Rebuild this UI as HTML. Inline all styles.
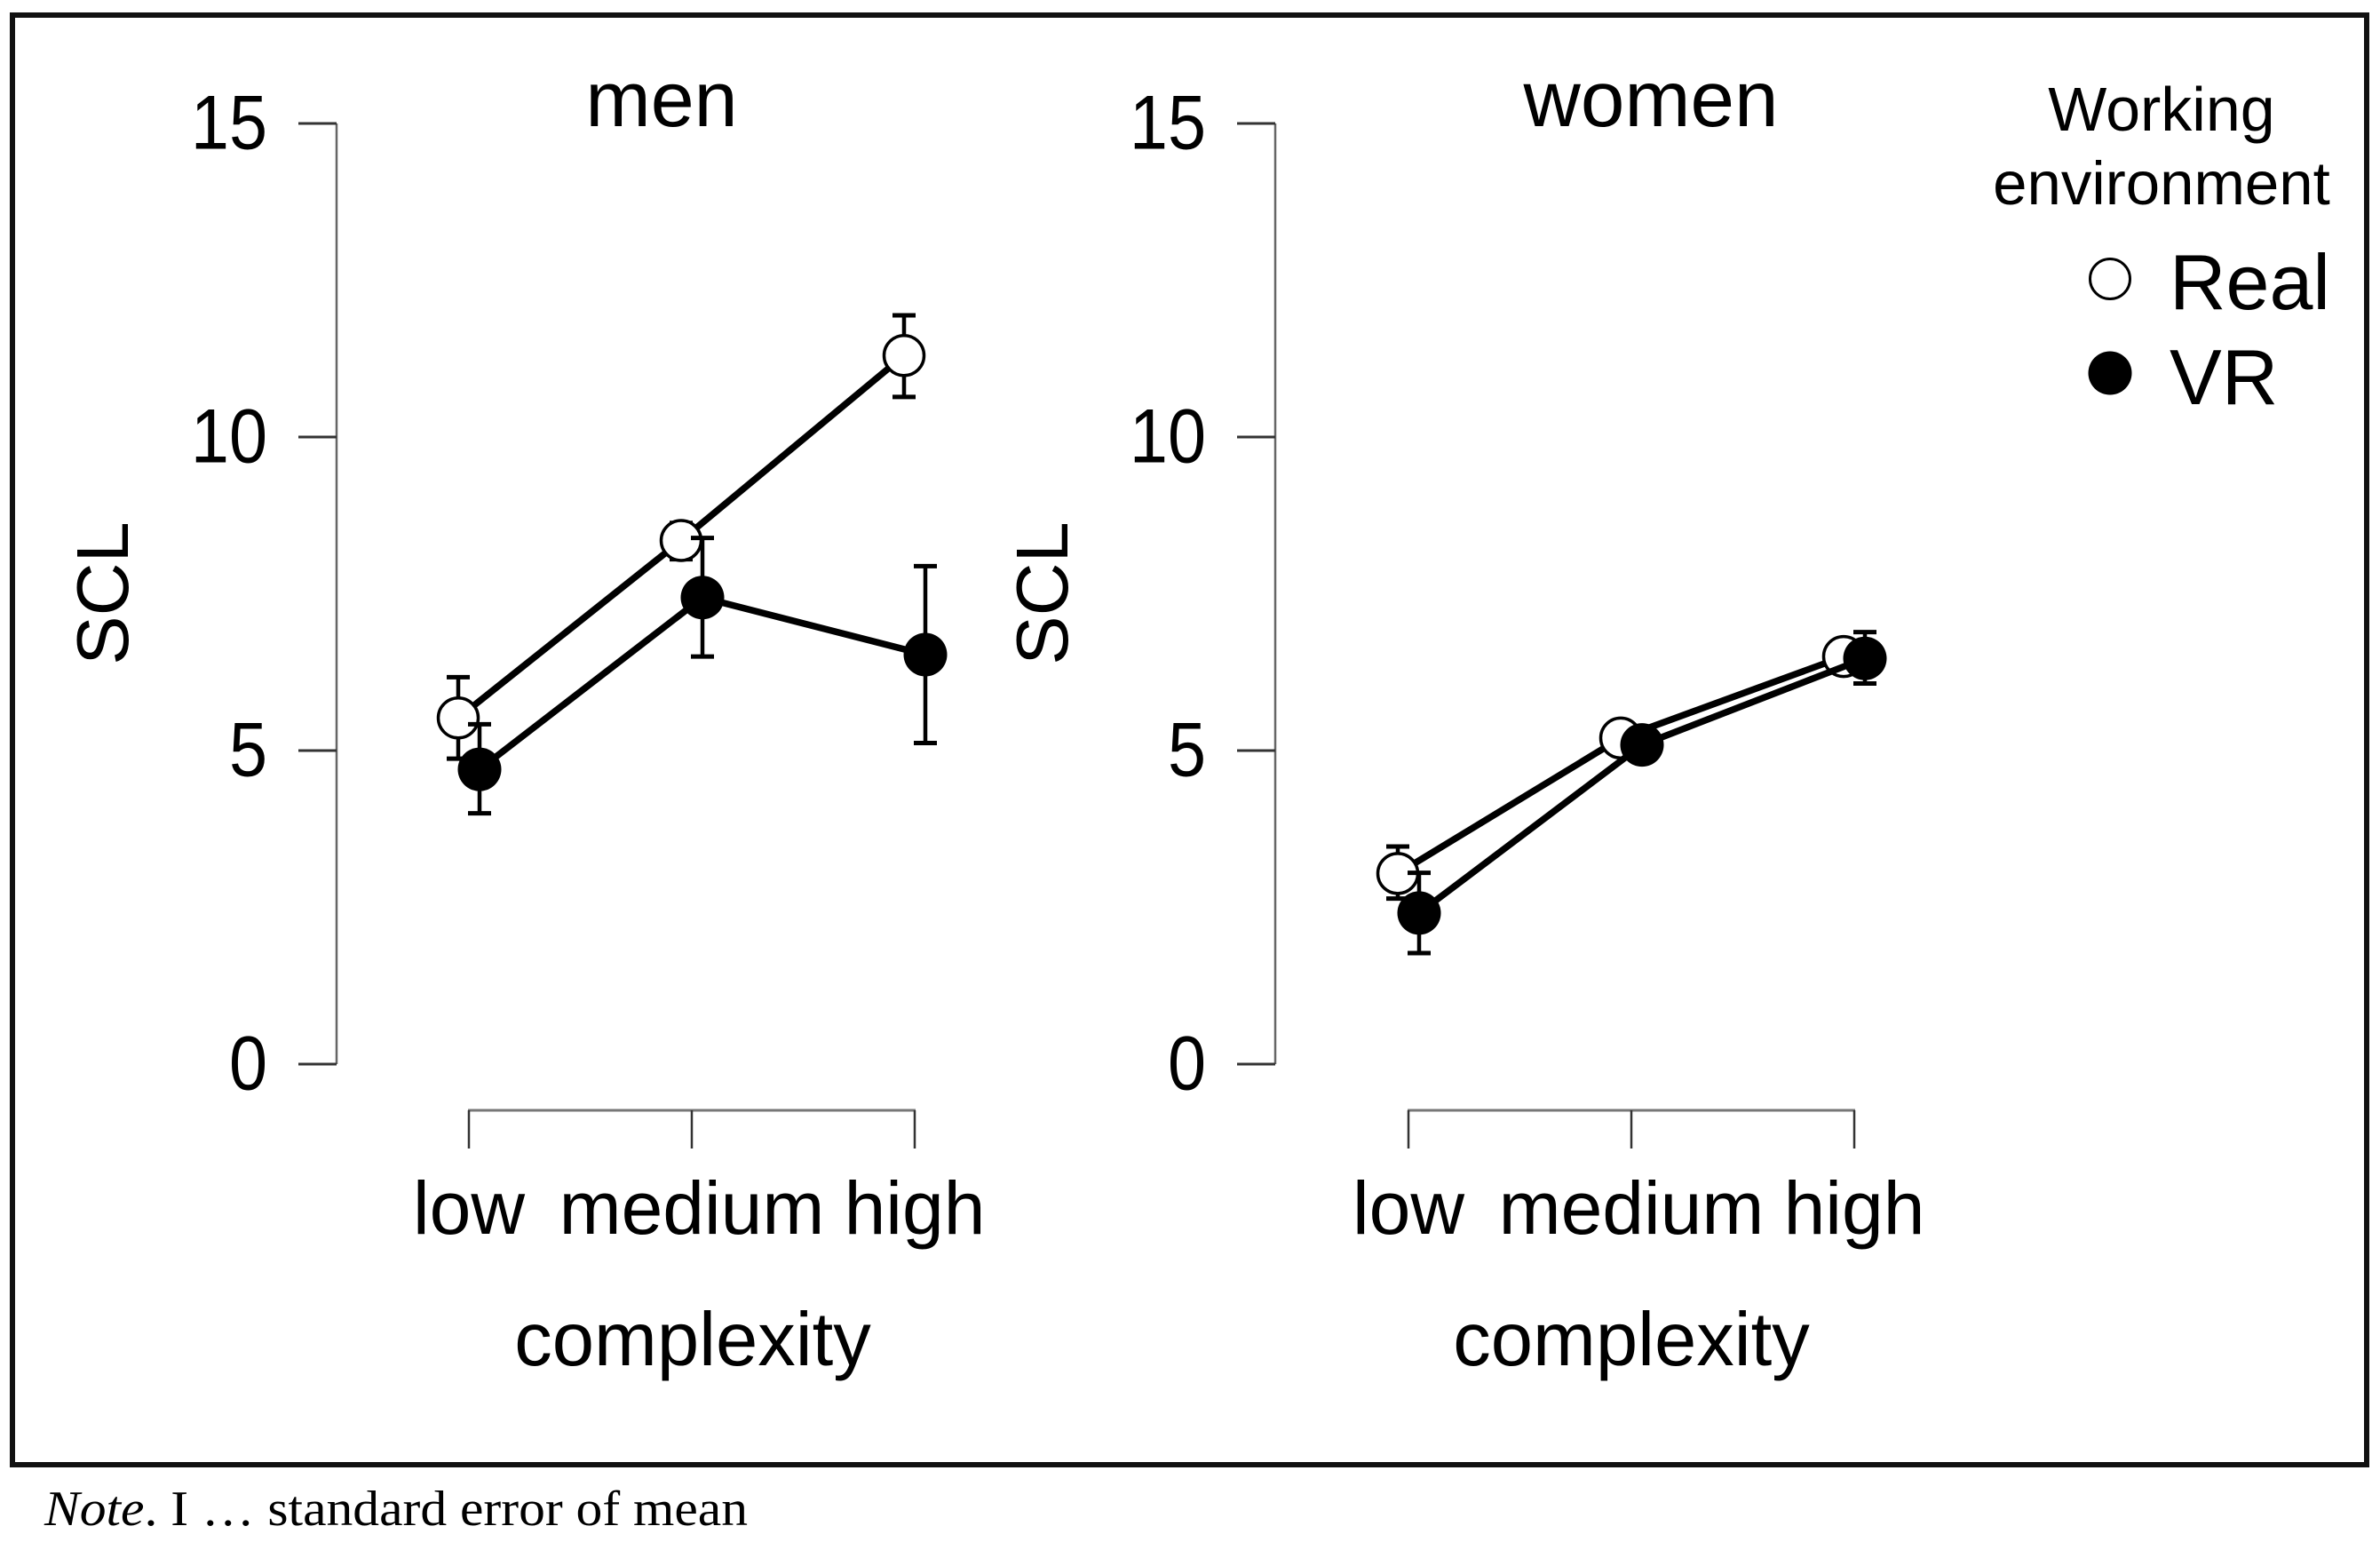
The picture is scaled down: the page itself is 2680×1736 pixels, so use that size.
<!DOCTYPE html>
<html lang="en">
<head>
<meta charset="utf-8">
<title>SCL by complexity, gender and working environment</title>
<style>
html,body{margin:0;padding:0;background:#fff;}
svg{display:block;}
text{font-family:"Liberation Sans",sans-serif;fill:#000;}
.note{font-family:"Liberation Serif",serif;}
</style>
</head>
<body>
<svg id="chart" xmlns="http://www.w3.org/2000/svg" width="2680" height="1736" viewBox="0 0 2680 1736">
  <rect x="0" y="0" width="2680" height="1736" fill="#fff"/>
  <rect x="14" y="17" width="2651" height="1632" fill="none" stroke="#111" stroke-width="6"/>

  <text x="745" y="142" font-size="88" text-anchor="middle">men</text>
  <text x="1859" y="142" font-size="89" text-anchor="middle">women</text>

  <text transform="translate(144 668) rotate(-90)" font-size="83" text-anchor="middle">SCL</text>
  <text transform="translate(1202 668) rotate(-90)" font-size="83" text-anchor="middle">SCL</text>

  <text x="780" y="1537" font-size="85" text-anchor="middle">complexity</text>
  <text x="1837" y="1537" font-size="85" text-anchor="middle">complexity</text>

  <g>
    <text x="2434" y="147" font-size="70" text-anchor="middle">Working</text>
    <text x="2434" y="230" font-size="69" text-anchor="middle">environment</text>
    <circle cx="2376" cy="314" r="22.5" fill="#fff" stroke="#000" stroke-width="3"/>
    <text x="2443" y="348" font-size="88">Real</text>
    <circle cx="2376" cy="420" r="24.5" fill="#000"/>
    <text x="2443" y="455" font-size="88">VR</text>
  </g>

  <text class="note" x="50" y="1717" font-size="56" textLength="792" lengthAdjust="spacingAndGlyphs"><tspan font-style="italic">Note</tspan>. I … standard error of mean</text>

  <g id="plot"></g>
</svg>

<script>
const categories = ['low', 'medium', 'high'];
const yTickValues = [0, 5, 10, 15];
const yTickLabels = ['0', '5', '10', '15'];

const menRealMean = [5.52, 8.35, 11.3];
const menRealUpper = [6.17, 8.63, 11.94];
const menRealLower = [4.87, 8.05, 10.64];
const menVrMean = [4.7, 7.44, 6.53];
const menVrUpper = [5.42, 8.39, 7.94];
const menVrLower = [4.0, 6.5, 5.12];

const womenRealMean = [3.04, 5.2, 6.5];
const womenRealUpper = [3.47, 5.4, 6.75];
const womenRealLower = [2.64, 5.0, 6.25];
const womenVrMean = [2.41, 5.09, 6.47];
const womenVrUpper = [3.05, 5.3, 6.89];
const womenVrLower = [1.77, 4.85, 6.07];

const NS = 'http://www.w3.org/2000/svg';
const plot = document.getElementById('plot');

function yScale(v) { return 1198 - v * (1198 - 139) / 15; }
function xScale(panelX0, i) { return panelX0 + i * 251; }

function make(tag, attrs, parent) {
  const el = document.createElementNS(NS, tag);
  for (const k in attrs) el.setAttribute(k, attrs[k]);
  parent.appendChild(el);
  return el;
}

function drawAxes(prefix, axisX, panelX0) {
  const g = make('g', {}, plot);
  
  

  const yLine = make('line', { x1: axisX, x2: axisX, y1: yScale(15), y2: yScale(0), stroke: '#666', 'stroke-width': 2.5 }, g);
  
  

  yTickValues.forEach(function (v, i) {
    const tick = make('line', { x1: axisX - 43, x2: axisX, y1: yScale(v), y2: yScale(v), stroke: '#333', 'stroke-width': 3 }, g);
    
    
    const label = make('text', { transform: 'translate(' + (axisX - 78) + ' ' + (yScale(v) + 28.5) + ') scale(0.9 1)', 'font-size': 86, 'text-anchor': 'end' }, g);
    label.textContent = yTickLabels[i];
    
    
  });

  const xLine = make('line', { x1: xScale(panelX0, 0) - 1, x2: xScale(panelX0, categories.length - 1) + 1, y1: 1250, y2: 1250, stroke: '#777', 'stroke-width': 3 }, g);
  
  

  categories.forEach(function (c, i) {
    const tick = make('line', { x1: xScale(panelX0, i), x2: xScale(panelX0, i), y1: 1250, y2: 1293, stroke: '#333', 'stroke-width': 2.5 }, g);
    
    
    const label = make('text', { x: xScale(panelX0, i), y: 1389, 'font-size': 84, 'text-anchor': 'middle' }, g);
    label.textContent = c;
    
    
  });
}

function drawSeries(prefix, panelX0, offset, mean, upper, lower, filled) {
  const g = make('g', {}, plot);
  
  

  const pts = mean.map(function (v, i) { return (xScale(panelX0, i) + offset) + ',' + yScale(v); }).join(' ');
  const line = make('polyline', { points: pts, fill: 'none', stroke: '#000', 'stroke-width': 7.5, 'stroke-linejoin': 'round' }, g);
  
  

  mean.forEach(function (v, i) {
    const x = xScale(panelX0, i) + offset;
    const stem = make('line', { x1: x, x2: x, y1: yScale(upper[i]), y2: yScale(lower[i]), stroke: '#000', 'stroke-width': 4.5 }, g);
    
    
    const capTop = make('line', { x1: x - 13, x2: x + 13, y1: yScale(upper[i]), y2: yScale(upper[i]), stroke: '#000', 'stroke-width': 5 }, g);
    
    
    const capBottom = make('line', { x1: x - 13, x2: x + 13, y1: yScale(lower[i]), y2: yScale(lower[i]), stroke: '#000', 'stroke-width': 5 }, g);
    
    
  });

  mean.forEach(function (v, i) {
    const x = xScale(panelX0, i) + offset;
    const attrs = filled
      ? { cx: x, cy: yScale(v), r: 24.5, fill: '#000' }
      : { cx: x, cy: yScale(v), r: 22.5, fill: '#fff', stroke: '#000', 'stroke-width': 3.5 };
    const dot = make('circle', attrs, g);
    
    
  });
}

const MEN_X0 = 528;
const WOMEN_X0 = 1586;

drawAxes('men', 379, MEN_X0);
drawAxes('women', 1436, WOMEN_X0);

drawSeries('men-real', MEN_X0, -12, menRealMean, menRealUpper, menRealLower, false);
drawSeries('men-vr', MEN_X0, 12, menVrMean, menVrUpper, menVrLower, true);
drawSeries('women-real', WOMEN_X0, -12, womenRealMean, womenRealUpper, womenRealLower, false);
drawSeries('women-vr', WOMEN_X0, 12, womenVrMean, womenVrUpper, womenVrLower, true);
</script>
</body>
</html>
